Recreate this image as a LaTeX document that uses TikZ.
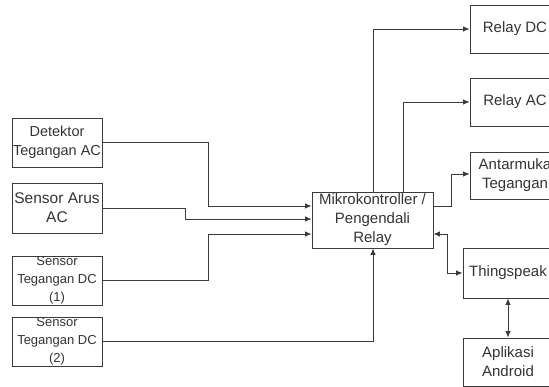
\documentclass[tikz,border=0pt]{standalone}
\usepackage{fontspec}
\setmainfont{Liberation Sans}
\usetikzlibrary{arrows.meta}
\definecolor{ln}{HTML}{3A3A3A}
\definecolor{tx}{HTML}{333333}
\tikzset{
  box/.style={draw=ln, line width=0.9pt, rectangle, inner sep=0pt, align=center, text=tx},
  conn/.style={draw=ln, line width=0.9pt},
  arr/.style={conn, -{Latex[length=6.5pt,width=5.5pt]}},
  darr/.style={conn, {Latex[length=6.5pt,width=5.5pt]}-{Latex[length=6.5pt,width=5.5pt]}},
  fa/.style={font=\fontsize{14.5}{19}\selectfont},
  fb/.style={font=\fontsize{15.5}{19}\selectfont},
  fc/.style={font=\fontsize{13}{18}\selectfont},
  fd/.style={font=\fontsize{15}{19}\selectfont},
}
\begin{document}
\begin{tikzpicture}[x=1pt,y=-1pt]
\useasboundingbox (0,0) rectangle (549,387);
\clip (0,0) rectangle (549,387);
% left column
\node[box,fa,minimum width=90pt,minimum height=49pt] (det) at (57,142.5) {Detektor\\Tegangan AC};
\node[box,fb,minimum width=90pt,minimum height=50pt] (arus) at (57,208) {Sensor Arus\\AC};
\node[box,fc,minimum width=90pt,minimum height=49pt] (dc1) at (57,280.5) {Sensor\\Tegangan DC\\(1)};
\node[box,fc,minimum width=90pt,minimum height=49pt] (dc2) at (57,341.5) {Sensor\\Tegangan DC\\(2)};
% center
\node[box,fd,minimum width=121pt,minimum height=56pt] (mikro) at (372.5,220) {Mikrokontroller /\\Pengendali\\Relay};
% right column
\node[box,fd,minimum width=90pt,minimum height=48pt] (rdc) at (515,29) {Relay DC};
\node[box,fd,minimum width=90pt,minimum height=48pt] (rac) at (515,102) {Relay AC};
\node[box,fd,minimum width=90pt,minimum height=47pt] (ant) at (515,175.5) {Antarmuka\\Tegangan};
\node[box,fd,minimum width=90pt,minimum height=50pt] (ts) at (508,273) {Thingspeak};
\node[box,fd,minimum width=90pt,minimum height=48pt] (app) at (508,362) {Aplikasi\\Android};
% connectors
\draw[arr] (det.east) -| (208,206) -- (mikro.west |- 0,206);
\draw[arr] (arus.east) -| (185,219) -- (mikro.west |- 0,219);
\draw[arr] (dc1.east) -| (208,234) -- (mikro.west |- 0,234);
\draw[arr] (dc2.east) -| (mikro.south -| 373,0);
\draw[arr] (mikro.north -| 373,0) |- (rdc.west);
\draw[arr] (mikro.north -| 403,0) |- (rac.west);
\draw[arr] (mikro.east |- 0,206) -| (451,174) -- (ant.west |- 0,174);
\draw[darr] (mikro.east |- 0,234) -| (447,273) -- (ts.west);
\draw[darr] (ts.south) -- (app.north);
\end{tikzpicture}
\end{document}
